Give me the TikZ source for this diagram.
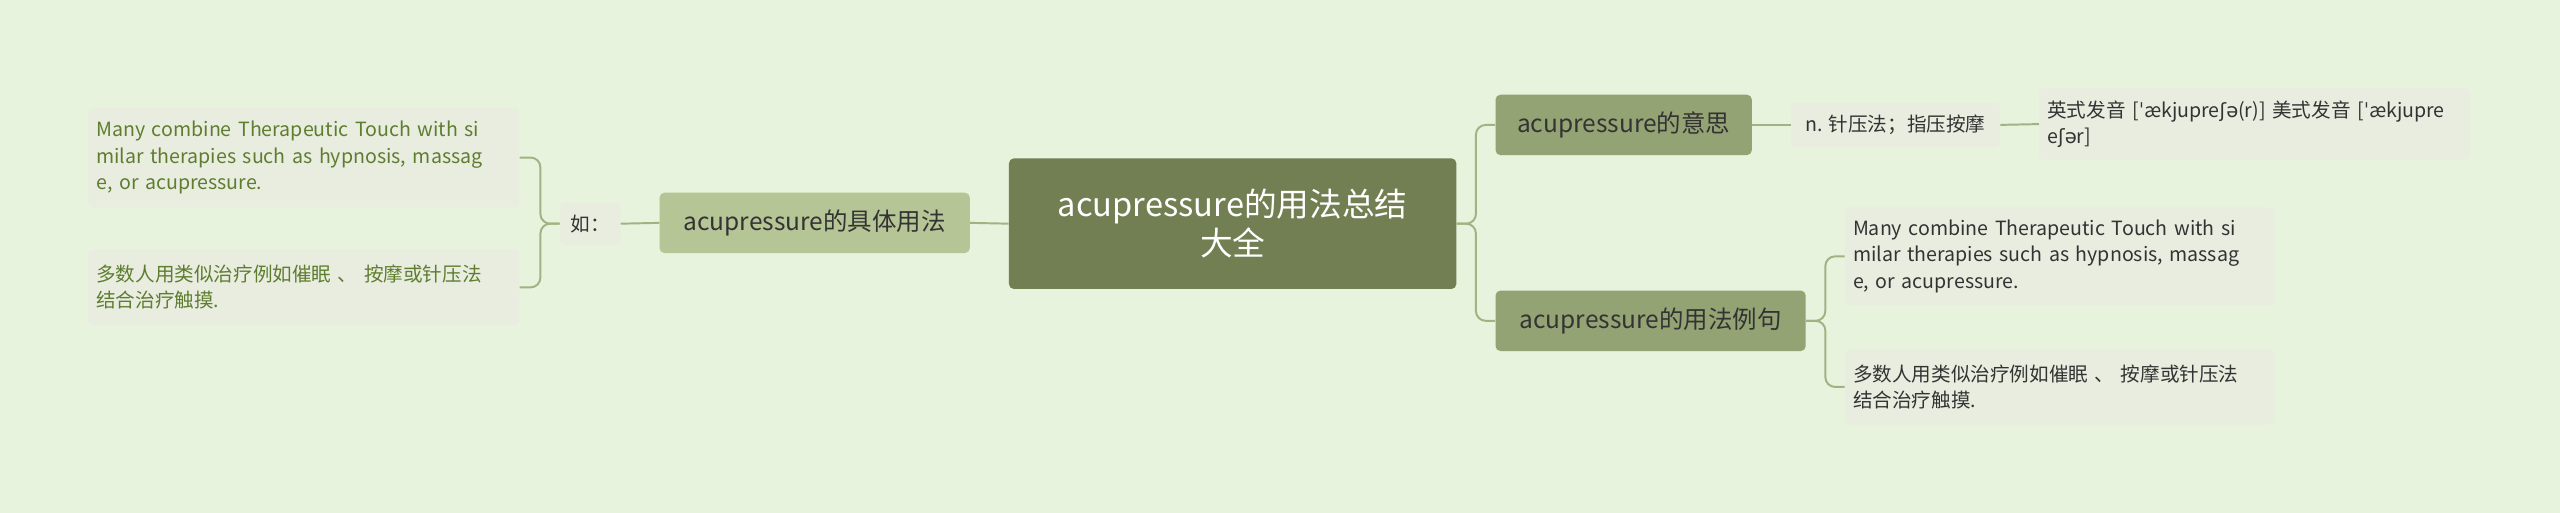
\documentclass[tikz,border=0pt]{standalone}
\usepackage{fontspec}
\setmainfont{Noto Sans CJK SC}
\newfontfamily\ipa{DejaVu Sans}
\begin{document}
\begin{tikzpicture}[x=1pt,y=-1pt,
  box/.style={rounded corners=3pt,inner sep=0pt,align=center},
  root/.style={box,fill=rootc,text=white,font=\fontsize{20}{24}\selectfont},
  main/.style={box,fill=mainc,text=black!80,font=\fontsize{15}{18}\selectfont},
  leaf/.style={box,fill=leafc,text=black!80,font=\fontsize{12}{16}\selectfont},
  lleaf/.style={leaf,text=leftt},
  conn/.style={draw=linec,line width=1.2pt,rounded corners=6pt}]
\definecolor{bg}{HTML}{E7F3DC}
\definecolor{rootc}{HTML}{717F52}
\definecolor{mainc}{HTML}{94A373}
\definecolor{lmainc}{HTML}{B6C595}
\definecolor{leafc}{HTML}{E9EDE0}
\definecolor{linec}{HTML}{A3B283}
\definecolor{leftt}{HTML}{5E7D2F}
\fill[bg] (0,0) rectangle (1568,314);
\useasboundingbox (0,0) rectangle (1568,314);
\node[root,minimum width=274pt,minimum height=80pt] (c) at (755,137) {acupressure的用法总结\\大全};
\node[main,minimum width=157pt,minimum height=37pt] (r1) at (994.5,76.5) {acupressure的意思};
\node[leaf,minimum width=128pt,minimum height=27pt] (m) at (1161,76.5) {n. 针压法；指压按摩};
\node[leaf,minimum width=264pt,minimum height=44pt,text width=254pt,align=left] (p) at (1381,76) {英式发音 [{\ipa ˈ}ækjupre{\ipa ʃə}(r)] 美式发音 [{\ipa ˈ}ækjupre\\e{\ipa ʃə}r]};
\node[main,minimum width=190pt,minimum height=37pt] (r2) at (1011,196.5) {acupressure的用法例句};
\node[leaf,minimum width=263pt,minimum height=60pt,text width=253pt,align=left] (e1) at (1261.5,157) {Many combine Therapeutic Touch with si\\milar therapies such as hypnosis, massag\\e, or acupressure.};
\node[leaf,minimum width=263pt,minimum height=46pt,text width=253pt,align=left] (e2) at (1261.5,237) {多数人用类似治疗例如催眠 、 按摩或针压法\\结合治疗触摸.};
\node[main,fill=lmainc,minimum width=190pt,minimum height=37pt] (l) at (499,136.5) {acupressure的具体用法};
\node[leaf,minimum width=37pt,minimum height=26pt] (ru) at (361.5,137) {如：};
\node[lleaf,minimum width=264pt,minimum height=61pt,text width=254pt,align=left] (f1) at (186,96.5) {Many combine Therapeutic Touch with si\\milar therapies such as hypnosis, massag\\e, or acupressure.};
\node[lleaf,minimum width=264pt,minimum height=46pt,text width=254pt,align=left] (f2) at (186,176) {多数人用类似治疗例如催眠 、 按摩或针压法\\结合治疗触摸.};
\draw[conn] (c.east) -- (904,137) |- (r1.west);
\draw[conn] (c.east) -- (904,137) |- (r2.west);
\draw[conn] (r1.east) -- (m.west);
\draw[conn] (m.east) -- (p.west);
\draw[conn] (r2.east) -- (1118,196.5) |- (e1.west);
\draw[conn] (r2.east) -- (1118,196.5) |- (e2.west);
\draw[conn] (c.west) -- (l.east);
\draw[conn] (l.west) -- (ru.east);
\draw[conn] (ru.west) -- (331,137) |- (f1.east);
\draw[conn] (ru.west) -- (331,137) |- (f2.east);
\end{tikzpicture}
\end{document}
